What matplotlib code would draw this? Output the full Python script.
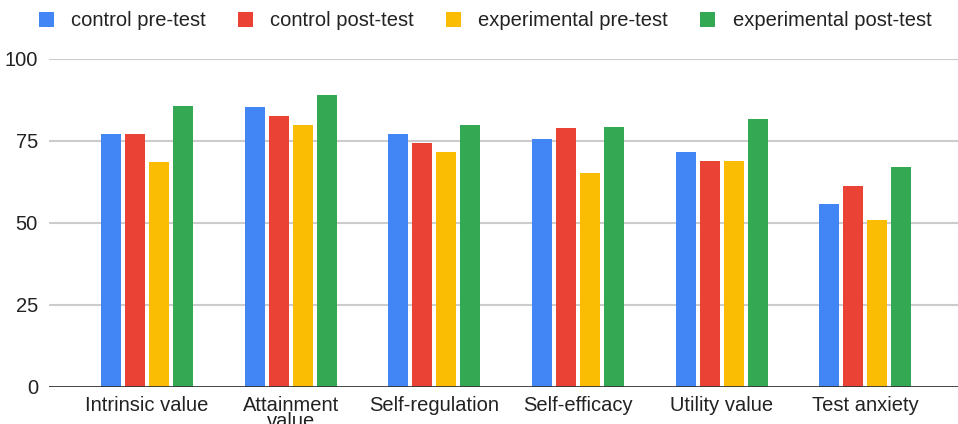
import matplotlib.pyplot as plt
import numpy as np

categories = ["Intrinsic value", "Attainment\nvalue", "Self-regulation",
              "Self-efficacy", "Utility value", "Test anxiety"]
series_names = ["control pre-test", "control post-test",
                "experimental pre-test", "experimental post-test"]
control_pre = [77.0, 85.3, 77.0, 75.7, 71.6, 55.9]
control_post = [77.0, 82.5, 74.3, 78.8, 68.9, 61.2]
exp_pre = [68.5, 79.8, 71.6, 65.3, 68.9, 50.8]
exp_post = [85.7, 88.9, 79.8, 79.3, 81.6, 67.0]
yticks = [0, 25, 50, 75, 100]

colors = ["#4285F4", "#EA4335", "#FBBC04", "#34A853"]

plt.rcParams['font.family'] = ['Liberation Sans', 'DejaVu Sans']

fig = plt.figure(figsize=(9.58, 4.24), dpi=100)
ax = fig.add_axes([49 / 958, 37.3 / 424, 909 / 958, 327.7 / 424])

x = np.arange(len(categories))
width = 0.139
step = 0.167
all_series = [control_pre, control_post, exp_pre, exp_post]
handles = []
for i, vals in enumerate(all_series):
    offs = (i - 1.5) * step
    b = ax.bar(x + offs, vals, width, color=colors[i], label=series_names[i], zorder=3)
    handles.append(b)

ax.set_xlim(-0.682, 5.644)
ax.set_ylim(0, 100)
ax.set_yticks(yticks)
ax.set_yticklabels([str(t) for t in yticks], fontsize=14.5, color="#222222")
ax.set_xticks(x)
ax.set_xticklabels(categories, fontsize=14.5, color="#222222", linespacing=0.85)
ax.tick_params(axis='both', length=0)
ax.tick_params(axis='y', pad=8)
ax.tick_params(axis='x', pad=6.5)

for t in yticks[1:]:
    ax.axhline(t, color="#cccccc", linewidth=1.5, zorder=1)
ax.axhline(0, color="#333333", linewidth=2, zorder=4)

for s in ax.spines.values():
    s.set_visible(False)

fig.legend(handles=handles, labels=series_names, loc='center', ncol=4,
           bbox_to_anchor=(485 / 958, 1 - 21 / 424), frameon=False, fontsize=14.5,
           handlelength=0.75, handleheight=0.75, handletextpad=0.85,
           columnspacing=1.6, labelcolor="#222222")

fig.savefig("out.png", dpi=100)
